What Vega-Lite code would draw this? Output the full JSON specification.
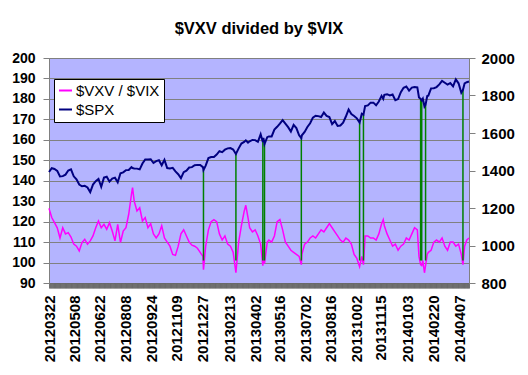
{
  "$schema": "https://vega.github.io/schema/vega-lite/v6.json",
  "width": 420,
  "height": 225,
  "autosize": "none",
  "padding": {"left": 49, "top": 58, "right": 59, "bottom": 92},
  "background": "white",
  "title": {"text": "$VXV divided by $VIX", "font": "Liberation Sans", "fontSize": 16.5, "fontWeight": "bold", "color": "black", "anchor": "middle", "offset": 14},
  "datasets": {
    "series": [
      {"date": "2012-03-22", "ratio": 126.5, "spx": 1392},
      {"date": "2012-03-27", "ratio": 122, "spx": 1412},
      {"date": "2012-04-01", "ratio": 119.5, "spx": 1408},
      {"date": "2012-04-06", "ratio": 117, "spx": 1398},
      {"date": "2012-04-11", "ratio": 112, "spx": 1368},
      {"date": "2012-04-16", "ratio": 117, "spx": 1370},
      {"date": "2012-04-21", "ratio": 114, "spx": 1378},
      {"date": "2012-04-26", "ratio": 114.6, "spx": 1400},
      {"date": "2012-05-01", "ratio": 112.5, "spx": 1406},
      {"date": "2012-05-06", "ratio": 109, "spx": 1369},
      {"date": "2012-05-11", "ratio": 108, "spx": 1353},
      {"date": "2012-05-16", "ratio": 105.7, "spx": 1325},
      {"date": "2012-05-21", "ratio": 109.8, "spx": 1316},
      {"date": "2012-05-26", "ratio": 111.4, "spx": 1318},
      {"date": "2012-05-31", "ratio": 109, "spx": 1310},
      {"date": "2012-06-05", "ratio": 110.6, "spx": 1285},
      {"date": "2012-06-10", "ratio": 113, "spx": 1325},
      {"date": "2012-06-15", "ratio": 117, "spx": 1343},
      {"date": "2012-06-20", "ratio": 120.3, "spx": 1355},
      {"date": "2012-06-25", "ratio": 117, "spx": 1313},
      {"date": "2012-06-30", "ratio": 118.7, "spx": 1362},
      {"date": "2012-07-05", "ratio": 116.3, "spx": 1367},
      {"date": "2012-07-10", "ratio": 119.5, "spx": 1341},
      {"date": "2012-07-15", "ratio": 115.4, "spx": 1357},
      {"date": "2012-07-20", "ratio": 110.6, "spx": 1362},
      {"date": "2012-07-25", "ratio": 118.7, "spx": 1337},
      {"date": "2012-07-30", "ratio": 109.8, "spx": 1385},
      {"date": "2012-08-04", "ratio": 115.4, "spx": 1390},
      {"date": "2012-08-09", "ratio": 117, "spx": 1402},
      {"date": "2012-08-14", "ratio": 123.6, "spx": 1403},
      {"date": "2012-08-19", "ratio": 133.3, "spx": 1418},
      {"date": "2012-08-21", "ratio": 136.6, "spx": 1413},
      {"date": "2012-08-24", "ratio": 130, "spx": 1411},
      {"date": "2012-08-29", "ratio": 125.2, "spx": 1410},
      {"date": "2012-09-03", "ratio": 126.8, "spx": 1406},
      {"date": "2012-09-08", "ratio": 120.3, "spx": 1437},
      {"date": "2012-09-13", "ratio": 122, "spx": 1459},
      {"date": "2012-09-18", "ratio": 117, "spx": 1459},
      {"date": "2012-09-23", "ratio": 119, "spx": 1460},
      {"date": "2012-09-28", "ratio": 114, "spx": 1440},
      {"date": "2012-10-03", "ratio": 112, "spx": 1450},
      {"date": "2012-10-08", "ratio": 114, "spx": 1455},
      {"date": "2012-10-13", "ratio": 118, "spx": 1428},
      {"date": "2012-10-18", "ratio": 112, "spx": 1457},
      {"date": "2012-10-23", "ratio": 110, "spx": 1413},
      {"date": "2012-10-28", "ratio": 108, "spx": 1411},
      {"date": "2012-11-02", "ratio": 104, "spx": 1414},
      {"date": "2012-11-07", "ratio": 103.5, "spx": 1395},
      {"date": "2012-11-12", "ratio": 108, "spx": 1380},
      {"date": "2012-11-17", "ratio": 114, "spx": 1359},
      {"date": "2012-11-22", "ratio": 116, "spx": 1391},
      {"date": "2012-11-27", "ratio": 113, "spx": 1399},
      {"date": "2012-12-02", "ratio": 110, "spx": 1416},
      {"date": "2012-12-07", "ratio": 108.5, "spx": 1418},
      {"date": "2012-12-12", "ratio": 108, "spx": 1428},
      {"date": "2012-12-17", "ratio": 107, "spx": 1430},
      {"date": "2012-12-22", "ratio": 105, "spx": 1430},
      {"date": "2012-12-27", "ratio": 103, "spx": 1418},
      {"date": "2012-12-28", "ratio": 96.5, "spx": 1402},
      {"date": "2013-01-01", "ratio": 108, "spx": 1426},
      {"date": "2013-01-06", "ratio": 116, "spx": 1466},
      {"date": "2013-01-11", "ratio": 120, "spx": 1472},
      {"date": "2013-01-16", "ratio": 121, "spx": 1472},
      {"date": "2013-01-21", "ratio": 120, "spx": 1485},
      {"date": "2013-01-26", "ratio": 114, "spx": 1503},
      {"date": "2013-01-31", "ratio": 111, "spx": 1498},
      {"date": "2013-02-05", "ratio": 113, "spx": 1511},
      {"date": "2013-02-10", "ratio": 109, "spx": 1518},
      {"date": "2013-02-15", "ratio": 108, "spx": 1520},
      {"date": "2013-02-20", "ratio": 105, "spx": 1512},
      {"date": "2013-02-25", "ratio": 95, "spx": 1488},
      {"date": "2013-03-02", "ratio": 110, "spx": 1518},
      {"date": "2013-03-07", "ratio": 118, "spx": 1544},
      {"date": "2013-03-12", "ratio": 125, "spx": 1552},
      {"date": "2013-03-15", "ratio": 128, "spx": 1561},
      {"date": "2013-03-19", "ratio": 122, "spx": 1549},
      {"date": "2013-03-22", "ratio": 117, "spx": 1556},
      {"date": "2013-03-27", "ratio": 115, "spx": 1563},
      {"date": "2013-04-01", "ratio": 116, "spx": 1562},
      {"date": "2013-04-06", "ratio": 113, "spx": 1553},
      {"date": "2013-04-11", "ratio": 109, "spx": 1593},
      {"date": "2013-04-15", "ratio": 98.5, "spx": 1552},
      {"date": "2013-04-16", "ratio": 106, "spx": 1574},
      {"date": "2013-04-18", "ratio": 99.5, "spx": 1541},
      {"date": "2013-04-23", "ratio": 110, "spx": 1578},
      {"date": "2013-04-26", "ratio": 111, "spx": 1582},
      {"date": "2013-05-01", "ratio": 110, "spx": 1582},
      {"date": "2013-05-06", "ratio": 113, "spx": 1618},
      {"date": "2013-05-11", "ratio": 120, "spx": 1633},
      {"date": "2013-05-16", "ratio": 121, "spx": 1650},
      {"date": "2013-05-21", "ratio": 116, "spx": 1669},
      {"date": "2013-05-26", "ratio": 110, "spx": 1650},
      {"date": "2013-05-31", "ratio": 108, "spx": 1631},
      {"date": "2013-06-05", "ratio": 106, "spx": 1608},
      {"date": "2013-06-10", "ratio": 105, "spx": 1643},
      {"date": "2013-06-15", "ratio": 104, "spx": 1626},
      {"date": "2013-06-20", "ratio": 103, "spx": 1588},
      {"date": "2013-06-24", "ratio": 99, "spx": 1573},
      {"date": "2013-06-25", "ratio": 104, "spx": 1588},
      {"date": "2013-06-30", "ratio": 109, "spx": 1606},
      {"date": "2013-07-05", "ratio": 110, "spx": 1632},
      {"date": "2013-07-10", "ratio": 112, "spx": 1652},
      {"date": "2013-07-15", "ratio": 113, "spx": 1682},
      {"date": "2013-07-20", "ratio": 112, "spx": 1692},
      {"date": "2013-07-25", "ratio": 114, "spx": 1690},
      {"date": "2013-07-30", "ratio": 116, "spx": 1685},
      {"date": "2013-08-04", "ratio": 115, "spx": 1709},
      {"date": "2013-08-09", "ratio": 117, "spx": 1691},
      {"date": "2013-08-14", "ratio": 119, "spx": 1685},
      {"date": "2013-08-19", "ratio": 117, "spx": 1647},
      {"date": "2013-08-24", "ratio": 115, "spx": 1664},
      {"date": "2013-08-29", "ratio": 113, "spx": 1638},
      {"date": "2013-09-03", "ratio": 111, "spx": 1640},
      {"date": "2013-09-08", "ratio": 110, "spx": 1655},
      {"date": "2013-09-13", "ratio": 112, "spx": 1688},
      {"date": "2013-09-18", "ratio": 111, "spx": 1725},
      {"date": "2013-09-23", "ratio": 109, "spx": 1701},
      {"date": "2013-09-28", "ratio": 104, "spx": 1691},
      {"date": "2013-10-03", "ratio": 102, "spx": 1678},
      {"date": "2013-10-08", "ratio": 98, "spx": 1656},
      {"date": "2013-10-12", "ratio": 103, "spx": 1703},
      {"date": "2013-10-15", "ratio": 99, "spx": 1698},
      {"date": "2013-10-18", "ratio": 113, "spx": 1744},
      {"date": "2013-10-23", "ratio": 113, "spx": 1747},
      {"date": "2013-10-28", "ratio": 112, "spx": 1762},
      {"date": "2013-11-02", "ratio": 112, "spx": 1762},
      {"date": "2013-11-07", "ratio": 111, "spx": 1748},
      {"date": "2013-11-12", "ratio": 114, "spx": 1768},
      {"date": "2013-11-17", "ratio": 119, "spx": 1798},
      {"date": "2013-11-20", "ratio": 121, "spx": 1782},
      {"date": "2013-11-22", "ratio": 118, "spx": 1804},
      {"date": "2013-11-27", "ratio": 114, "spx": 1807},
      {"date": "2013-12-02", "ratio": 111, "spx": 1800},
      {"date": "2013-12-07", "ratio": 108, "spx": 1805},
      {"date": "2013-12-12", "ratio": 109, "spx": 1775},
      {"date": "2013-12-17", "ratio": 106, "spx": 1781},
      {"date": "2013-12-22", "ratio": 108, "spx": 1818},
      {"date": "2013-12-27", "ratio": 109, "spx": 1841},
      {"date": "2014-01-01", "ratio": 112, "spx": 1848},
      {"date": "2014-01-06", "ratio": 111, "spx": 1826},
      {"date": "2014-01-11", "ratio": 114, "spx": 1842},
      {"date": "2014-01-16", "ratio": 117, "spx": 1845},
      {"date": "2014-01-21", "ratio": 116, "spx": 1843},
      {"date": "2014-01-24", "ratio": 103, "spx": 1790},
      {"date": "2014-01-27", "ratio": 99, "spx": 1782},
      {"date": "2014-01-29", "ratio": 98.5, "spx": 1774},
      {"date": "2014-01-31", "ratio": 101, "spx": 1783},
      {"date": "2014-02-03", "ratio": 95, "spx": 1741},
      {"date": "2014-02-05", "ratio": 98.5, "spx": 1751},
      {"date": "2014-02-08", "ratio": 104, "spx": 1797},
      {"date": "2014-02-10", "ratio": 105, "spx": 1799},
      {"date": "2014-02-15", "ratio": 106, "spx": 1838},
      {"date": "2014-02-20", "ratio": 110, "spx": 1839},
      {"date": "2014-02-25", "ratio": 111, "spx": 1845},
      {"date": "2014-03-02", "ratio": 110, "spx": 1859},
      {"date": "2014-03-07", "ratio": 112, "spx": 1878},
      {"date": "2014-03-12", "ratio": 108, "spx": 1868},
      {"date": "2014-03-17", "ratio": 106, "spx": 1858},
      {"date": "2014-03-22", "ratio": 110, "spx": 1866},
      {"date": "2014-03-27", "ratio": 110, "spx": 1849},
      {"date": "2014-04-01", "ratio": 108, "spx": 1886},
      {"date": "2014-04-06", "ratio": 109, "spx": 1865},
      {"date": "2014-04-11", "ratio": 104, "spx": 1815},
      {"date": "2014-04-14", "ratio": 99, "spx": 1830},
      {"date": "2014-04-17", "ratio": 108, "spx": 1864},
      {"date": "2014-04-21", "ratio": 111, "spx": 1871},
      {"date": "2014-04-25", "ratio": 112, "spx": 1875}
    ],
    "signals": [
      {"date": "2012-12-28", "spx": 1402},
      {"date": "2013-02-25", "spx": 1488},
      {"date": "2013-04-15", "spx": 1552},
      {"date": "2013-04-18", "spx": 1541},
      {"date": "2013-06-24", "spx": 1573},
      {"date": "2013-10-08", "spx": 1656},
      {"date": "2013-10-15", "spx": 1698},
      {"date": "2014-01-27", "spx": 1782},
      {"date": "2014-01-29", "spx": 1774},
      {"date": "2014-02-05", "spx": 1751},
      {"date": "2014-04-14", "spx": 1830}
    ]
  },
  "layer": [
    {
      "layer": [
        {
          "data": {"name": "series"},
          "mark": {"type": "line", "strokeWidth": 1.5},
          "encoding": {
            "x": {
              "field": "date", "type": "temporal",
              "scale": {"type": "utc", "domain": [{"year": 2012, "month": 3, "date": 22, "utc": true}, {"year": 2014, "month": 4, "date": 25, "utc": true}]},
              "axis": {
                "title": null,
                "orient": "bottom",
                "tickCount": {"interval": "day", "step": 1},
                "labelExpr": "indexof(['20120322','20120508','20120622','20120808','20120924','20121109','20121227','20130213','20130402','20130516','20130702','20130816','20131002','20131115','20140103','20140220','20140407'], utcFormat(datum.value, '%Y%m%d')) >= 0 ? utcFormat(datum.value, '%Y%m%d') : ''",
                "labelAngle": 270,
                "labelFont": "Liberation Sans",
                "labelFontSize": 15,
                "labelFontWeight": "bold",
                "labelColor": "black",
                "labelPadding": 7,
                "labelOverlap": false,
                "labelFlush": false,
                "labelBound": false,
                "ticks": true,
                "tickColor": "#5c5c5c",
                "tickOpacity": 1,
                "tickSize": 5,
                "tickWidth": 0.8,
                "tickRound": false,
                "domain": false,
                "grid": false
              }
            },
            "y": {
              "field": "ratio", "type": "quantitative",
              "scale": {"domain": [90, 200], "nice": false, "zero": false},
              "axis": {
                "title": null,
                "orient": "left",
                "values": [90, 100, 110, 120, 130, 140, 150, 160, 170, 180, 190, 200],
                "tickCount": 50,
                "labelOverlap": false,
                "labelFlush": false,
                "grid": true, "gridColor": "#808080", "gridWidth": 1, "gridOpacity": 1,
                "domainColor": "#808080",
                "tickColor": "#808080", "tickSize": 6,
                "labelFont": "Liberation Sans", "labelFontSize": 14, "labelFontWeight": "bold", "labelColor": "black",
                "labelPadding": 8
              }
            },
            "color": {
              "datum": "$VXV / $VIX",
              "scale": {"domain": ["$VXV / $VIX", "$SPX"], "range": ["#FF00FF", "#000080"]},
              "legend": {
                "title": null, "orient": "none", "legendX": 5, "legendY": 21,
                "direction": "vertical",
                "fillColor": "white", "strokeColor": "black", "padding": 4,
                "symbolType": "stroke", "symbolSize": 169, "symbolStrokeWidth": 2,
                "labelFont": "Liberation Sans", "labelFontSize": 15, "labelColor": "black",
                "labelOffset": 3, "rowPadding": 3
              }
            }
          }
        },
        {
          "mark": {"type": "rule", "color": "#FF0000", "strokeWidth": 2.5},
          "encoding": {"y": {"datum": 100}}
        }
      ]
    },
    {
      "layer": [
        {
          "data": {"name": "signals"},
          "mark": {"type": "rule", "color": "#008000", "strokeWidth": 1.5},
          "encoding": {
            "x": {"field": "date", "type": "temporal"},
            "y": {"field": "spx", "type": "quantitative"},
            "y2": {"datum": 920}
          }
        },
        {
          "data": {"name": "series"},
          "mark": {"type": "line", "strokeWidth": 2},
          "encoding": {
            "x": {"field": "date", "type": "temporal"},
            "y": {
              "field": "spx", "type": "quantitative",
              "scale": {"domain": [800, 2000], "nice": false, "zero": false},
              "axis": {
                "title": null, "orient": "right",
                "values": [800, 1000, 1200, 1400, 1600, 1800, 2000],
                "tickCount": 50,
                "format": "d",
                "labelOverlap": false,
                "labelFlush": false,
                "grid": false,
                "domainColor": "#808080",
                "tickColor": "#808080", "tickSize": 6,
                "labelFont": "Liberation Sans", "labelFontSize": 15, "labelFontWeight": "bold", "labelColor": "black",
                "labelPadding": 6
              }
            },
            "color": {"datum": "$SPX"}
          }
        }
      ]
    }
  ],
  "resolve": {"scale": {"y": "independent"}},
  "config": {
    "view": {"fill": "#B4B4FF", "stroke": "#808080"},
    "font": "Liberation Sans"
  }
}
